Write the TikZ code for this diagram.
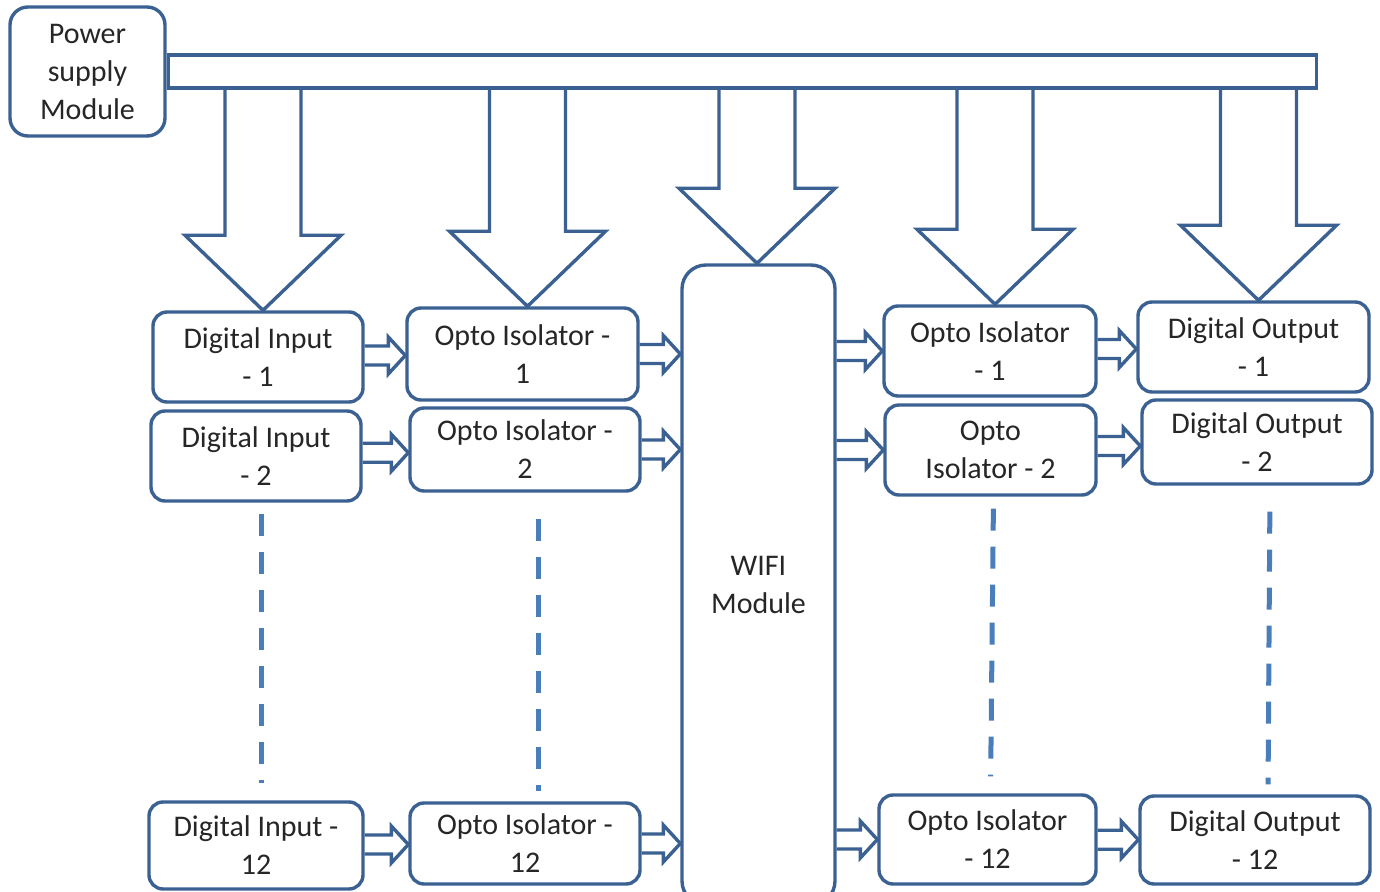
\documentclass[tikz,border=0pt]{standalone}
\usepackage{fontspec}
\setmainfont{Carlito}
\usetikzlibrary{calc}

\definecolor{boxblue}{HTML}{3B6193}
\definecolor{dashblue}{HTML}{4A7EBB}
\definecolor{boxtext}{HTML}{262626}

\tikzset{
	block/.style={draw=boxblue, line width=1.7pt, rounded corners=7pt, align=center,
		inner sep=0pt, text=boxtext, font=\fontsize{15}{19}\selectfont},
	boxsize/.style 2 args={minimum width=#1*0.5pt, minimum height=#2*0.5pt},
	feed/.style={draw=boxblue, line width=1.7pt, line join=miter},
	link/.style={draw=boxblue, line width=1.7pt, line join=miter},
	skip/.style 2 args={draw=dashblue, line width=2.5pt, dash pattern=on 11pt off 8pt,
		shorten <=#1, shorten >=#2}
}

% hollow supply arrow from the bus down onto a block
\newcommand{\feedarrow}[2][2.5pt]{%
	\draw[feed] let \p1=([xshift=#1]#2.north), \p2=(bus.south) in
		(\x1-19pt,\y2) -- (\x1-19pt,\y1+37.5pt) -- (\x1-39pt,\y1+37.5pt) -- (\p1)
		-- (\x1+39pt,\y1+37.5pt) -- (\x1+19pt,\y1+37.5pt) -- (\x1+19pt,\y2);}

% small hollow arrow between two blocks
\newcommand{\linkarrow}[2]{%
	\draw[link] let \p1=#1, \p2=#2, \p3=($#1!0.5!#2$) in
		(\x1,\y3+4.75pt) -- (\x2-8.5pt,\y3+4.75pt) -- (\x2-8.5pt,\y3+9.25pt) -- (\x2,\y3)
		-- (\x2-8.5pt,\y3-9.25pt) -- (\x2-8.5pt,\y3-4.75pt) -- (\x1,\y3-4.75pt);}

\begin{document}
\begin{tikzpicture}[x=0.5pt, y=-0.5pt]
	\useasboundingbox (0,0) rectangle (1380,892);
	\clip (0,0) rectangle (1380,892);

	% supply and bus
	\node[block, boxsize={155}{129}, rounded corners=9pt] (power) at (87.5,71.5) {Power\\supply\\Module};
	\node[block, boxsize={1148}{33}, rounded corners=0pt, anchor=west] (bus) at (power.east) {};

	% input side
	\node[block, boxsize={210}{90}] (di_1) at (258,357) {Digital Input\\- 1};
	\node[block, boxsize={210}{90}] (di_2) at (256,456) {Digital Input\\- 2};
	\node[block, boxsize={214}{87}] (di_12) at (256,845.5) {Digital Input -\\12};
	\node[block, boxsize={231}{92}] (oi_1) at (522.5,354) {Opto Isolator -\\1};
	\node[block, boxsize={230}{83}] (oi_2) at (525,449.5) {Opto Isolator -\\2};
	\node[block, boxsize={230}{81}] (oi_12) at (525,843.5) {Opto Isolator -\\12};

	\node[block, boxsize={153}{640}, rounded corners=12pt] (wifi) at (758.5,585) {WIFI\\Module};

	% output side
	\node[block, boxsize={212}{90}] (or_1) at (990,351) {Opto Isolator\\- 1};
	\node[block, boxsize={211}{90}] (or_2) at (990.5,450) {Opto\\Isolator - 2};
	\node[block, boxsize={217}{89}] (or_12) at (987.5,839.5) {Opto Isolator\\- 12};
	\node[block, boxsize={231}{90}] (do_1) at (1253.5,347) {Digital Output\\- 1};
	\node[block, boxsize={230}{84}] (do_2) at (1257,442) {Digital Output\\- 2};
	\node[block, boxsize={230}{88}] (do_12) at (1255,840) {Digital Output\\- 12};

	\feedarrow{di_1}
	\feedarrow{oi_1}
	\feedarrow[-0.75pt]{wifi}
	\feedarrow{or_1}
	\feedarrow{do_1}

	\foreach \k in {1,2,12} {
		\linkarrow{(di_\k.east)}{(oi_\k.west)}
		\linkarrow{(oi_\k.east)}{(oi_\k.east -| wifi.west)}
		\linkarrow{(wifi.east |- or_\k.west)}{(or_\k.west)}
		\linkarrow{(or_\k.east)}{(do_\k.west)}
	}

	% remaining channels
	\draw[skip={5.5pt}{8.5pt}] ([xshift=2.5pt]di_2.south) -- ([xshift=2.5pt]di_12.north);
	\draw[skip={13pt}{5pt}] ([xshift=6.5pt]oi_2.south) -- ([xshift=6.5pt]oi_12.north);
	\draw[skip={6pt}{8.5pt}] ([xshift=1.5pt]or_2.south) -- ([xshift=1.5pt]or_12.north);
	\draw[skip={13pt}{5pt}] ([xshift=6.5pt]do_2.south) -- ([xshift=6.5pt]do_12.north);
\end{tikzpicture}
\end{document}
